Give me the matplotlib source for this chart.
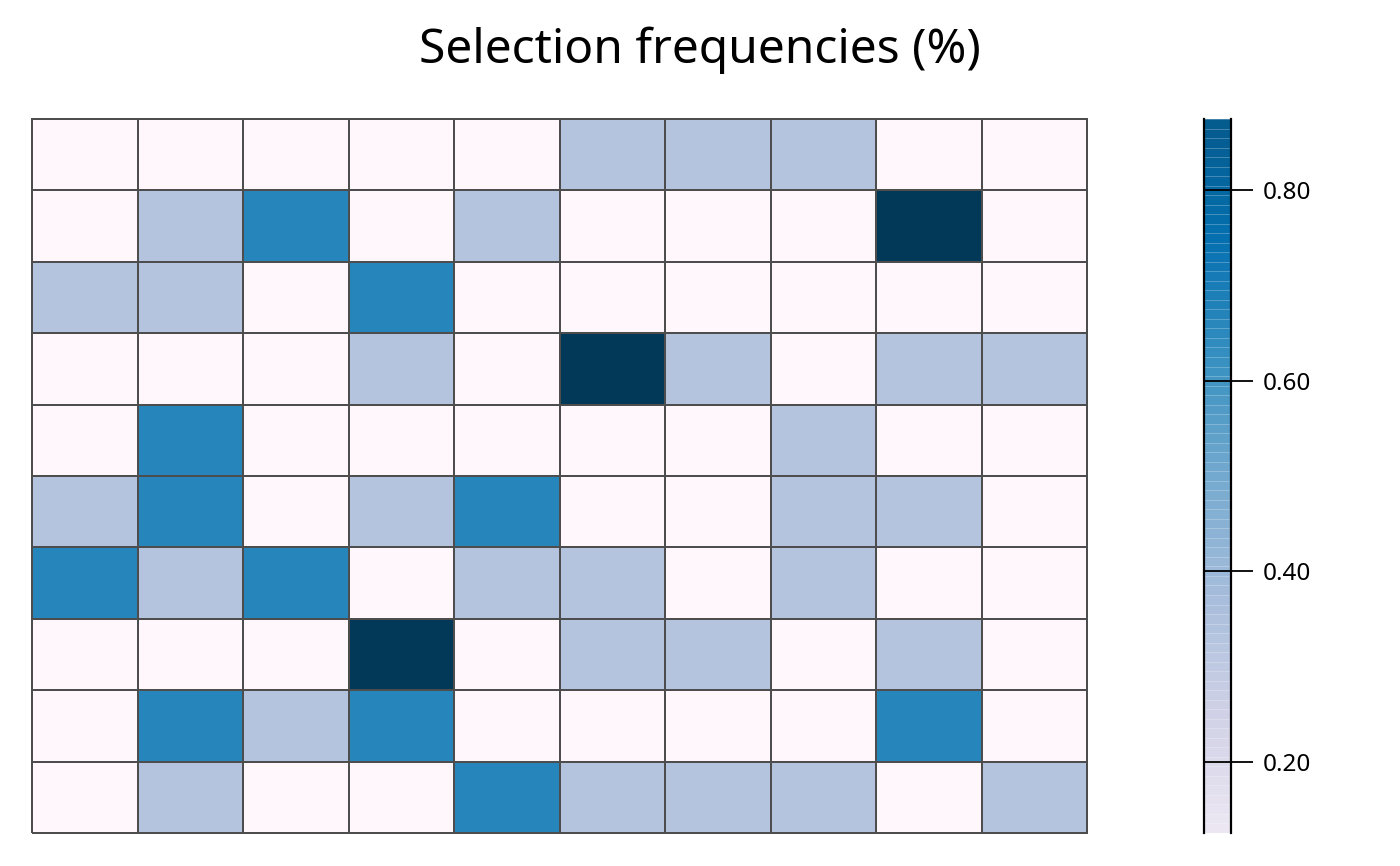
import numpy as np
import matplotlib
matplotlib.use("Agg")
import matplotlib.pyplot as plt
from matplotlib.colors import Normalize

plt.rcParams['font.family'] = ['Noto Sans', 'DejaVu Sans']

# Selection frequency grid (rows top to bottom, columns left to right)
row_labels = [f"r{i}" for i in range(1, 11)]
col_labels = [f"c{j}" for j in range(1, 11)]
values = [
    [0.2, 0.2, 0.2, 0.2, 0.2, 0.4, 0.4, 0.4, 0.2, 0.2],
    [0.2, 0.4, 0.6, 0.2, 0.4, 0.2, 0.2, 0.2, 0.8, 0.2],
    [0.4, 0.4, 0.2, 0.6, 0.2, 0.2, 0.2, 0.2, 0.2, 0.2],
    [0.2, 0.2, 0.2, 0.4, 0.2, 0.8, 0.4, 0.2, 0.4, 0.4],
    [0.2, 0.6, 0.2, 0.2, 0.2, 0.2, 0.2, 0.4, 0.2, 0.2],
    [0.4, 0.6, 0.2, 0.4, 0.6, 0.2, 0.2, 0.4, 0.4, 0.2],
    [0.6, 0.4, 0.6, 0.2, 0.4, 0.4, 0.2, 0.4, 0.2, 0.2],
    [0.2, 0.2, 0.2, 0.8, 0.2, 0.4, 0.4, 0.2, 0.4, 0.2],
    [0.2, 0.6, 0.4, 0.6, 0.2, 0.2, 0.2, 0.2, 0.6, 0.2],
    [0.2, 0.4, 0.2, 0.2, 0.6, 0.4, 0.4, 0.4, 0.2, 0.4],
]
cbar_ticks = [0.2, 0.4, 0.6, 0.8]
cbar_range = (0.125, 0.875)
cbar_step = 0.01
title = "Selection frequencies (%)"

W, H = 1400, 866
fig = plt.figure(figsize=(W / 100, H / 100), dpi=100)

data = np.array(values)
nr, nc = data.shape
ax = fig.add_axes([32 / W, (H - 833) / H, (1087 - 32) / W, (833 - 119) / H])
cmap = plt.get_cmap('PuBu')
mesh = ax.pcolormesh(np.arange(nc + 1), np.arange(nr + 1), data[::-1], cmap=cmap,
                     norm=Normalize(0.2, 0.8), edgecolor='#4d4d4d', linewidth=1.1)
mesh.set_clip_on(False)
ax.set_xlim(0, nc)
ax.set_ylim(0, nr)
ax.set_xticks([])
ax.set_yticks([])
for s in ax.spines.values():
    s.set_visible(False)

fig.text(0.5, 1 - 50 / H, title, ha='center', va='center', fontsize=34.5)

# colour bar
cax = fig.add_axes([1204 / W, (H - 833) / H, (1231 - 1204) / W, (833 - 119) / H])
levels = np.arange(cbar_range[0], cbar_range[1] + cbar_step / 2, cbar_step)
mids = (levels[:-1] + levels[1:]) / 2
cax.pcolormesh([0, 1], levels, mids.reshape(-1, 1), cmap=cmap, norm=Normalize(0, 1),
               edgecolor=(1, 1, 1, 0.25), linewidth=0.4)
cax.set_xlim(0, 1)
cax.set_ylim(*cbar_range)
cax.set_xticks([])
cax.yaxis.tick_right()
cax.set_yticks(cbar_ticks)
cax.set_yticklabels([f"{t:.2f}" for t in cbar_ticks])
cax.tick_params(axis='y', length=16, width=1.3, labelsize=17.5, pad=7)
for t in cbar_ticks:
    cax.axhline(t, color='black', lw=1.3)
cax.spines['top'].set_visible(False)
cax.spines['bottom'].set_visible(False)
cax.spines['left'].set_linewidth(1.6)
cax.spines['right'].set_linewidth(1.6)

fig.savefig('out.png', dpi=100)
